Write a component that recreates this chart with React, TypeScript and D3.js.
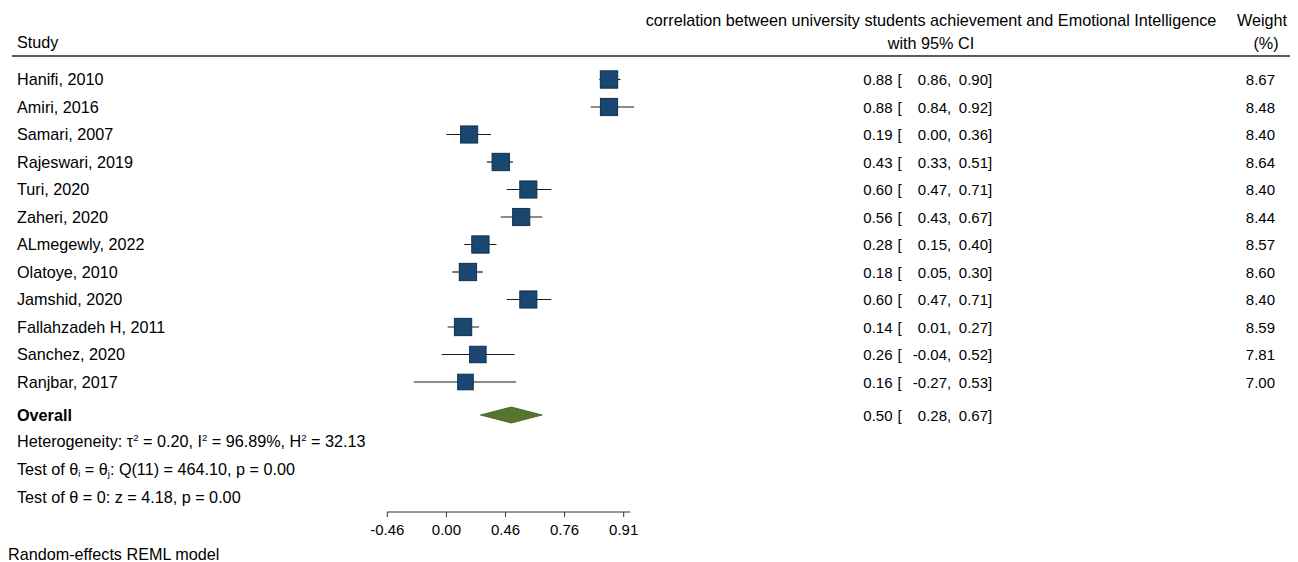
import React from "react";
import * as d3 from "d3";

const width = 1298;
const height = 562;

const studies = [
  "Hanifi, 2010",
  "Amiri, 2016",
  "Samari, 2007",
  "Rajeswari, 2019",
  "Turi, 2020",
  "Zaheri, 2020",
  "ALmegewly, 2022",
  "Olatoye, 2010",
  "Jamshid, 2020",
  "Fallahzadeh H, 2011",
  "Sanchez, 2020",
  "Ranjbar, 2017"
];
const estimates = [0.88, 0.88, 0.19, 0.43, 0.6, 0.56, 0.28, 0.18, 0.6, 0.14, 0.26, 0.16];
const lowers = [0.86, 0.84, 0.0, 0.33, 0.47, 0.43, 0.15, 0.05, 0.47, 0.01, -0.04, -0.27];
const uppers = [0.9, 0.92, 0.36, 0.51, 0.71, 0.67, 0.4, 0.3, 0.71, 0.27, 0.52, 0.53];
const weights = [8.67, 8.48, 8.4, 8.64, 8.4, 8.44, 8.57, 8.6, 8.4, 8.59, 7.81, 7.0];

const overallEst = 0.5;
const overallLo = 0.28;
const overallHi = 0.67;

// axis is on the Fisher z scale, labelled with back-transformed correlations
const tickZ = [-0.5, 0, 0.5, 1, 1.5];
const tickLabels = ["-0.46", "0.00", "0.46", "0.76", "0.91"];

const FONT = "'Liberation Sans', Arial, sans-serif";
const navy = "#1a476f";
const green = "#55752f";
const wordSize = 16.2; // labels with letters
const numSize = 15; // numeric columns

const fmt = (v: number) => v.toFixed(2);

export default function App() {
  const x = d3.scaleLinear().domain([-0.5, 1.5]).range([387.3, 623.7]);
  const zx = (r: number) => x(Math.atanh(r));
  const y = d3
    .scalePoint<number>()
    .domain(d3.range(studies.length))
    .range([79.5, 382]);
  const overallY = 415;
  const axisY = 512;
  const side = (w: number) => 5.9 * Math.sqrt(w);

  const axisEnd = (d3.max(uppers.map(zx)) as number) - 4;

  const diamond = d3.line<[number, number]>()([
    [zx(overallLo), overallY],
    [zx(overallEst), overallY - 8],
    [zx(overallHi), overallY],
    [zx(overallEst), overallY + 8],
    [zx(overallLo), overallY]
  ]);

  const estRight = 892.5;
  const bracketX = 897.5;
  const loRight = 947;
  const hiRight = 988;
  const weightRight = 1275;

  const ciText = (est: number, lo: number, hi: number, cy: number, key: string) => (
    <g key={key} fontSize={numSize}>
      <text x={estRight} y={cy + 5.5} textAnchor="end">{fmt(est)}</text>
      <text x={bracketX} y={cy + 5.5}>[</text>
      <text x={loRight} y={cy + 5.5} textAnchor="end">{fmt(lo)}</text>
      <text x={loRight} y={cy + 5.5}>,</text>
      <text x={hiRight} y={cy + 5.5} textAnchor="end">{fmt(hi)}</text>
      <text x={hiRight} y={cy + 5.5}>]</text>
    </g>
  );

  return (
    <svg
      width={width}
      height={height}
      style={{ position: "absolute", left: 0, top: 0, background: "#fff" }}
      fontFamily={FONT}
      fontSize={wordSize}
      fill="#000"
    >
      {/* header */}
      <text x={17} y={48}>Study</text>
      <text x={931} y={26} textAnchor="middle">
        correlation between university students achievement and Emotional Intelligence
      </text>
      <text x={931} y={49} textAnchor="middle">with 95% CI</text>
      <text x={1262} y={26} textAnchor="middle">Weight</text>
      <text x={1266} y={49} textAnchor="middle">(%)</text>
      <line x1={12} x2={1290} y1={56} y2={56} stroke="#5a5a5a" strokeWidth={2} />

      {/* studies */}
      {studies.map((s, i) => {
        const cy = y(i) as number;
        const sz = side(weights[i]);
        return (
          <g key={s}>
            <text x={17} y={cy + 5.5}>{s}</text>
            <line
              x1={zx(lowers[i])}
              x2={zx(uppers[i])}
              y1={cy}
              y2={cy}
              stroke="#1b1b1b"
              strokeWidth={1.2}
            />
            <rect
              x={zx(estimates[i]) - sz / 2}
              y={cy - sz / 2}
              width={sz}
              height={sz}
              fill={navy}
              stroke="#10304d"
              strokeWidth={1}
            />
            {ciText(estimates[i], lowers[i], uppers[i], cy, "ci" + i)}
            <text x={weightRight} y={cy + 5.5} textAnchor="end" fontSize={numSize}>
              {fmt(weights[i])}
            </text>
          </g>
        );
      })}

      {/* overall */}
      <text x={17} y={overallY + 5.5} fontWeight="bold">Overall</text>
      <path d={diamond ?? ""} fill={green} stroke="#3f5a22" strokeWidth={0.8} />
      {ciText(overallEst, overallLo, overallHi, overallY, "overall")}

      <text x={17} y={446.5}>
        Heterogeneity: τ
        <tspan fontSize={9.5} dy={-6}>2</tspan>
        <tspan dy={6}> = 0.20, I</tspan>
        <tspan fontSize={9.5} dy={-6}>2</tspan>
        <tspan dy={6}> = 96.89%, H</tspan>
        <tspan fontSize={9.5} dy={-6}>2</tspan>
        <tspan dy={6}> = 32.13</tspan>
      </text>
      <text x={17} y={474.5}>
        Test of θ
        <tspan fontSize={9.5} dy={2}>i</tspan>
        <tspan dy={-2}> = θ</tspan>
        <tspan fontSize={9.5} dy={2}>j</tspan>
        <tspan dy={-2}>: Q(11) = 464.10, p = 0.00</tspan>
      </text>
      <text x={17} y={502.5}>Test of θ = 0: z = 4.18, p = 0.00</text>

      {/* axis */}
      <line x1={x(-0.5)} x2={axisEnd} y1={axisY} y2={axisY} stroke="#333" strokeWidth={1} />
      {tickZ.map((t, i) => (
        <g key={"t" + i}>
          <line x1={x(t)} x2={x(t)} y1={axisY} y2={axisY + 5} stroke="#333" strokeWidth={1} />
          <text x={x(t)} y={535} textAnchor="middle" fontSize={numSize}>{tickLabels[i]}</text>
        </g>
      ))}

      <text x={8} y={560}>Random-effects REML model</text>
    </svg>
  );
}
